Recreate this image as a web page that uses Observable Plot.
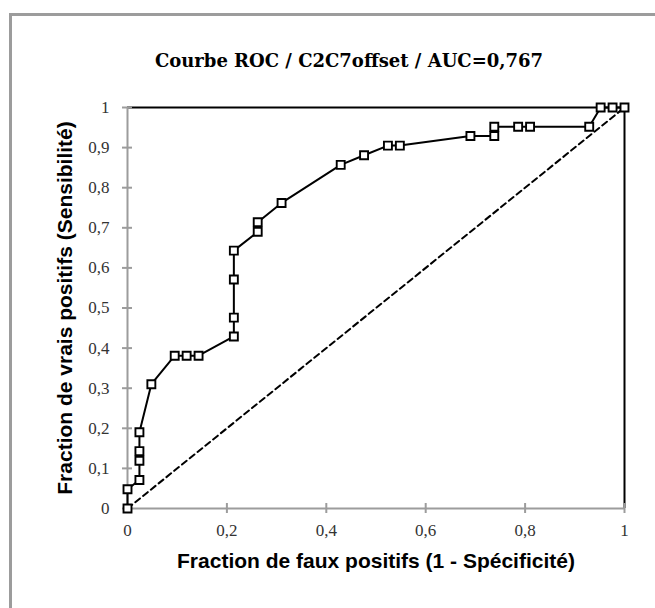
<!DOCTYPE html>
<html><head><meta charset="utf-8">
<script src="https://cdn.jsdelivr.net/npm/d3@7"></script>
<script src="https://cdn.jsdelivr.net/npm/@observablehq/plot@0.6"></script>
<style>
body{margin:0;background:#fff;}
#wrap{position:relative;width:655px;height:608px;overflow:hidden;background:#fff;}
#frame{position:absolute;left:9px;top:13px;width:720px;height:720px;border:3px solid #9c9c9c;box-sizing:border-box;}
#title{position:absolute;left:99px;top:50px;width:500px;text-align:center;font:bold 18px "DejaVu Serif";color:#000;}
#chart{position:absolute;left:0;top:0;}
</style></head>
<body>
<div id="wrap"><div id="frame"></div><div id="chart"></div><div id="title">Courbe ROC / C2C7offset / AUC=0,767</div></div>
<script>
const fpr = [0, 0, 0.024, 0.024, 0.024, 0.024, 0.048, 0.095, 0.119, 0.143, 0.214, 0.214, 0.214, 0.214, 0.262, 0.262, 0.310, 0.429, 0.476, 0.524, 0.548, 0.690, 0.738, 0.738, 0.786, 0.810, 0.929, 0.952, 0.976, 1];
const tpr = [0, 0.048, 0.071, 0.119, 0.143, 0.190, 0.310, 0.381, 0.381, 0.381, 0.429, 0.476, 0.571, 0.643, 0.690, 0.714, 0.762, 0.857, 0.881, 0.905, 0.905, 0.929, 0.929, 0.952, 0.952, 0.952, 0.952, 1, 1, 1];
const xTicks = [0, 0.2, 0.4, 0.6, 0.8, 1];
const yTicks = [0, 0.1, 0.2, 0.3, 0.4, 0.5, 0.6, 0.7, 0.8, 0.9, 1];
const diagonal = [0, 1];
const xLabel = "Fraction de faux positifs (1 - Spécificité)";
const yLabel = "Fraction de vrais positifs (Sensibilité)";

const roc = fpr.map((x, i) => ({x, y: tpr[i]}));
const fmt = d => String(d).replace(".", ",");
const gray = "#9c9c9c";

const chart = Plot.plot({
  width: 655, height: 608,
  marginLeft: 127, marginRight: 31, marginTop: 107, marginBottom: 100,
  x: {domain: [0, 1]},
  y: {domain: [0, 1]},
  style: {background: "transparent", fontFamily: "Liberation Serif", fontSize: "17px", color: "#333"},
  marks: [
    Plot.ruleY([1], {x1: 0, x2: 1, stroke: "#000", strokeWidth: 2}),
    Plot.ruleX([1], {y1: 0, y2: 1, stroke: "#000", strokeWidth: 2}),
    Plot.line(diagonal.map(v => ({x: v, y: v})), {x: "x", y: "y", stroke: "#000", strokeWidth: 2, strokeDasharray: "6,4"}),
    Plot.ruleY([0], {x1: 0, x2: 1, stroke: gray, strokeWidth: 2}),
    Plot.ruleX([0], {y1: 0, y2: 1, stroke: gray, strokeWidth: 2}),
    Plot.ruleX(xTicks, {x: d => d, y1: 0, y2: 0, insetTop: -5, insetBottom: -5, stroke: gray, strokeWidth: 2}),
    Plot.ruleY(yTicks, {y: d => d, x1: 0, x2: 0, insetLeft: -5, insetRight: -5, stroke: gray, strokeWidth: 2}),
    Plot.axisX(xTicks, {tickSize: 0, tickPadding: 15, tickFormat: fmt, fontSize: 17, fill: "#333", label: null}),
    Plot.axisY(yTicks, {tickSize: 0, tickPadding: 18, tickFormat: fmt, fontSize: 17, fill: "#333", label: null}),
    Plot.line(roc, {x: "x", y: "y", stroke: "#000", strokeWidth: 2}),
    Plot.dot(roc, {x: "x", y: "y", symbol: "square", r: 4.5, fill: "#fff", stroke: "#000", strokeWidth: 1.9}),
    Plot.text([xLabel], {frameAnchor: "bottom", dy: 59, fontSize: 21, fontWeight: "bold", fontFamily: "Liberation Sans", fill: "#000"}),
    Plot.text([yLabel], {frameAnchor: "left", dx: -62, rotate: -90, textAnchor: "middle", fontSize: 21, fontWeight: "bold", fontFamily: "Liberation Sans", fill: "#000"})
  ]
});
document.getElementById("chart").appendChild(chart);
</script>
</body></html>
